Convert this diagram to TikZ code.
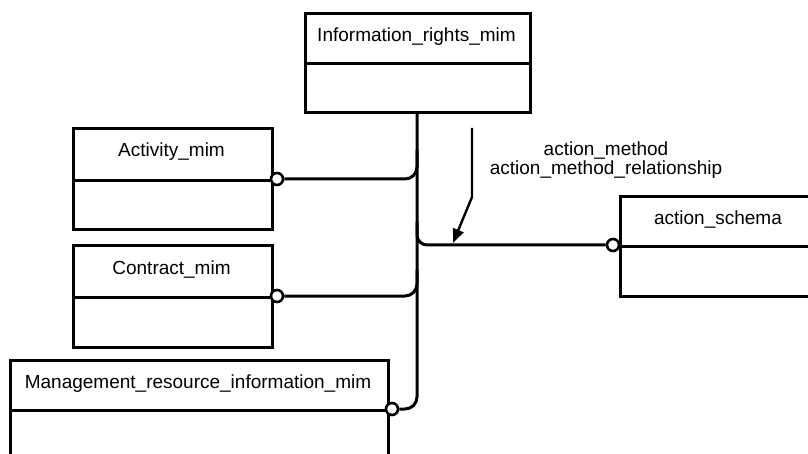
\documentclass[tikz,border=0pt]{standalone}
\usepackage{fontspec}
\setmainfont{Liberation Sans}
\usetikzlibrary{arrows.meta}
\begin{document}
\begin{tikzpicture}[x=1pt,y=-1pt,
  every node/.style={font=\fontsize{19}{22}\selectfont},
  boxline/.style={line width=3pt},
  titlebox/.style={boxline, draw, rectangle, inner sep=0pt, anchor=north west, minimum height=50pt},
  bodybox/.style={boxline, draw, rectangle, inner sep=0pt, anchor=north west, minimum height=50pt},
  conn/.style={line width=3pt, rounded corners=12pt},
  ring/.style={circle, draw, line width=2.6pt, fill=white, minimum size=12pt, inner sep=0pt}
]
\useasboundingbox (0,0) rectangle (808,454);
\clip (0,0) rectangle (808,454);

% Information_rights_mim
\node[titlebox, minimum width=225pt] (infoT) at (304,12) {};
\node[bodybox, minimum width=225pt, minimum height=49pt] (infoB) at (304,62) {};
\node (infoL) at (416.5,37) {Information\_rights\_mim};

% Activity_mim
\node[titlebox, minimum width=199pt, minimum height=52pt] (actT) at (72,127) {};
\node[bodybox, minimum width=199pt, minimum height=49pt] (actB) at (72,179) {};
\node (actL) at (171.5,152) {Activity\_mim};

% Contract_mim
\node[titlebox, minimum width=199pt, minimum height=52pt] (conT) at (72,244) {};
\node[bodybox, minimum width=199pt, minimum height=50pt] (conB) at (72,296) {};
\node (conL) at (171.5,270) {Contract\_mim};

% Management_resource_information_mim
\node[titlebox, minimum width=378pt] (mgtT) at (9,359) {};
\node[bodybox, minimum width=378pt, minimum height=60pt] (mgtB) at (9,409) {};
\node (mgtL) at (198,384) {Management\_resource\_information\_mim};

% action_schema
\node[titlebox, minimum width=210pt] (schT) at (619,195) {};
\node[bodybox, minimum width=210pt] (schB) at (619,245) {};
\node (schL) at (718,220) {action\_schema};

% rings
\node[ring] (actR) at (277,179) {};
\node[ring] (conR) at (277,296) {};
\node[ring] (mgtR) at (392,409) {};
\node[ring] (schR) at (613,245) {};

% trunk and branches
\coordinate (tA) at (417,150);
\coordinate (tC) at (417,270);
\coordinate (tS) at (417,222);
\draw[conn] (mgtR.east) -| (infoB.south -| 417,0);
\draw[conn] (actR.east) -| (tA);
\draw[conn] (conR.east) -| (tC);
\draw[conn, rounded corners=10pt] (tS) |- (schR.west);

% label and arrow
\node[align=center, inner sep=0pt] (lbl) at (606,160) {action\_method\\[-3pt]action\_method\_relationship};
\coordinate (a0) at (472,128);
\coordinate (a1) at (472,197);
\coordinate (a2) at (453,243);
\draw[line width=2.4pt, -{Triangle[length=14pt,width=11pt]}] (a0) -- (a1) -- (a2);
\end{tikzpicture}
\end{document}
